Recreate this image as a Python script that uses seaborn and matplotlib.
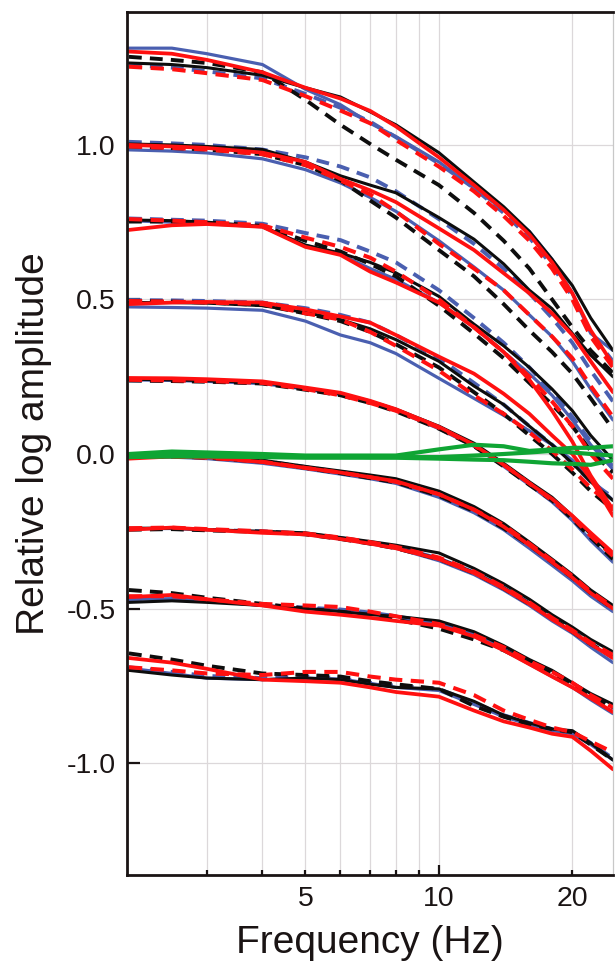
import matplotlib
matplotlib.use("Agg")
import matplotlib.pyplot as plt
import seaborn as sns
from matplotlib.ticker import FixedLocator, FuncFormatter

# ---------------- data ----------------
FREQ = [2, 2.5, 3, 4, 5, 6, 7, 8, 10, 12, 14, 16, 18, 20, 22, 24.7]

# group A (top, ~1.27)
A_blk   = [1.265, 1.26, 1.25, 1.225, 1.185, 1.155, 1.107, 1.065, 0.975, 0.88, 0.80, 0.72, 0.63, 0.545, 0.44, 0.335]
A_blk_d = [1.285, 1.275, 1.265, 1.235, 1.146, 1.065, 1.003, 0.952, 0.87, 0.78, 0.69, 0.60, 0.50, 0.41, 0.335, 0.262]
A_red   = [1.302, 1.295, 1.275, 1.235, 1.185, 1.15, 1.11, 1.06, 0.96, 0.87, 0.79, 0.71, 0.62, 0.52, 0.40, 0.29]
A_red_d = [1.253, 1.245, 1.232, 1.21, 1.158, 1.111, 1.07, 1.016, 0.93, 0.85, 0.77, 0.69, 0.60, 0.50, 0.38, 0.28]
A_blu   = [1.313, 1.313, 1.295, 1.26, 1.18, 1.13, 1.07, 1.027, 0.945, 0.86, 0.79, 0.72, 0.63, 0.52, 0.39, 0.335]
A_blu_d = [1.258, 1.25, 1.238, 1.215, 1.165, 1.12, 1.075, 1.025, 0.94, 0.86, 0.78, 0.70, 0.61, 0.51, 0.39, 0.30]

# group B (~1.0)
B_blk   = [1.003, 1.0, 0.995, 0.985, 0.945, 0.90, 0.87, 0.845, 0.765, 0.695, 0.615, 0.53, 0.47, 0.39, 0.32, 0.25]
B_blk_d = [0.995, 0.99, 0.985, 0.97, 0.935, 0.885, 0.82, 0.765, 0.66, 0.575, 0.485, 0.40, 0.33, 0.26, 0.18, 0.08]
B_red   = [1.0, 0.995, 0.99, 0.975, 0.945, 0.89, 0.853, 0.815, 0.73, 0.66, 0.585, 0.52, 0.455, 0.385, 0.30, 0.20]
B_red_d = [0.995, 0.99, 0.985, 0.97, 0.935, 0.885, 0.84, 0.785, 0.68, 0.60, 0.53, 0.45, 0.38, 0.31, 0.22, 0.12]
B_blu   = [0.984, 0.98, 0.974, 0.955, 0.92, 0.877, 0.83, 0.785, 0.69, 0.605, 0.53, 0.45, 0.38, 0.30, 0.21, 0.11]
B_blu_d = [1.01, 1.005, 1.0, 0.985, 0.96, 0.93, 0.895, 0.85, 0.76, 0.68, 0.60, 0.52, 0.44, 0.36, 0.27, 0.17]

# group C (~0.75)
C_blk   = [0.757, 0.755, 0.75, 0.736, 0.676, 0.65, 0.62, 0.586, 0.51, 0.42, 0.35, 0.28, 0.21, 0.14, 0.06, -0.02]
C_blk_d = [0.752, 0.752, 0.75, 0.738, 0.69, 0.655, 0.615, 0.575, 0.48, 0.39, 0.31, 0.23, 0.16, 0.09, 0.01, -0.06]
C_red   = [0.725, 0.74, 0.744, 0.735, 0.67, 0.644, 0.59, 0.555, 0.49, 0.41, 0.33, 0.24, 0.14, 0.04, -0.07, -0.18]
C_red_d = [0.76, 0.755, 0.75, 0.74, 0.70, 0.67, 0.635, 0.59, 0.50, 0.41, 0.33, 0.25, 0.17, 0.09, 0.0, -0.08]
C_blu   = [0.755, 0.75, 0.745, 0.735, 0.675, 0.645, 0.60, 0.565, 0.49, 0.41, 0.33, 0.26, 0.19, 0.11, 0.03, -0.05]
C_blu_d = [0.762, 0.758, 0.755, 0.745, 0.715, 0.692, 0.655, 0.62, 0.53, 0.44, 0.36, 0.28, 0.20, 0.12, 0.04, -0.04]

# group D (~0.5)
D_blk   = [0.49, 0.49, 0.488, 0.48, 0.458, 0.435, 0.405, 0.37, 0.30, 0.22, 0.16, 0.09, 0.03, -0.03, -0.09, -0.15]
D_blk_d = [0.495, 0.493, 0.49, 0.482, 0.455, 0.43, 0.395, 0.355, 0.28, 0.20, 0.13, 0.06, 0.0, -0.06, -0.12, -0.18]
D_red   = [0.485, 0.49, 0.492, 0.49, 0.468, 0.445, 0.425, 0.385, 0.315, 0.26, 0.195, 0.13, 0.06, 0.0, -0.08, -0.2]
D_red_d = [0.495, 0.493, 0.49, 0.485, 0.455, 0.435, 0.395, 0.35, 0.27, 0.19, 0.13, 0.07, 0.01, -0.05, -0.11, -0.17]
D_blu   = [0.476, 0.474, 0.472, 0.465, 0.43, 0.385, 0.36, 0.325, 0.245, 0.18, 0.125, 0.075, 0.03, -0.02, -0.08, -0.15]
D_blu_d = [0.498, 0.497, 0.495, 0.49, 0.472, 0.45, 0.425, 0.385, 0.31, 0.23, 0.16, 0.09, 0.03, -0.03, -0.09, -0.14]

# group E (~0.25)
E_blk   = [0.242, 0.24, 0.237, 0.232, 0.212, 0.195, 0.17, 0.145, 0.09, 0.035, -0.03, -0.09, -0.14, -0.2, -0.26, -0.33]
E_blk_d = [0.238, 0.236, 0.234, 0.228, 0.208, 0.19, 0.165, 0.138, 0.082, 0.025, -0.04, -0.1, -0.15, -0.21, -0.27, -0.34]
E_red   = [0.246, 0.245, 0.242, 0.235, 0.215, 0.198, 0.172, 0.145, 0.088, 0.03, -0.035, -0.095, -0.145, -0.2, -0.255, -0.32]
E_red_d = [0.24, 0.238, 0.236, 0.23, 0.21, 0.19, 0.165, 0.14, 0.085, 0.028, -0.035, -0.095, -0.15, -0.205, -0.265, -0.33]
E_blu   = [0.24, 0.238, 0.235, 0.228, 0.21, 0.192, 0.168, 0.14, 0.082, 0.025, -0.04, -0.1, -0.155, -0.215, -0.28, -0.35]
E_blu_d = [0.238, 0.237, 0.235, 0.23, 0.212, 0.195, 0.17, 0.143, 0.088, 0.03, -0.035, -0.095, -0.15, -0.21, -0.27, -0.34]

# group F (starts at 0)
F_blk   = [-0.005, -0.005, -0.01, -0.02, -0.04, -0.055, -0.068, -0.08, -0.12, -0.17, -0.225, -0.285, -0.34, -0.39, -0.44, -0.49]
F_blk_d = [-0.008, -0.008, -0.012, -0.025, -0.045, -0.062, -0.078, -0.092, -0.135, -0.185, -0.24, -0.295, -0.35, -0.40, -0.45, -0.50]
F_red   = [-0.015, -0.008, -0.01, -0.026, -0.045, -0.06, -0.075, -0.088, -0.13, -0.18, -0.235, -0.295, -0.35, -0.40, -0.45, -0.50]
F_red_d = [-0.01, -0.008, -0.012, -0.025, -0.045, -0.06, -0.075, -0.09, -0.13, -0.18, -0.23, -0.29, -0.345, -0.395, -0.445, -0.495]
F_blu   = [-0.01, -0.01, -0.015, -0.03, -0.048, -0.065, -0.08, -0.095, -0.14, -0.19, -0.245, -0.305, -0.36, -0.41, -0.46, -0.51]
F_blu_d = [-0.005, -0.006, -0.01, -0.022, -0.042, -0.058, -0.072, -0.086, -0.128, -0.178, -0.232, -0.29, -0.345, -0.395, -0.445, -0.495]

# group G (~-0.25)
G_blk   = [-0.24, -0.24, -0.245, -0.25, -0.255, -0.27, -0.283, -0.295, -0.32, -0.37, -0.42, -0.47, -0.52, -0.56, -0.6, -0.64]
G_blk_d = [-0.245, -0.243, -0.247, -0.252, -0.26, -0.275, -0.29, -0.305, -0.34, -0.385, -0.435, -0.485, -0.53, -0.575, -0.615, -0.655]
G_red   = [-0.245, -0.238, -0.245, -0.255, -0.26, -0.275, -0.29, -0.305, -0.34, -0.385, -0.435, -0.485, -0.535, -0.575, -0.615, -0.66]
G_red_d = [-0.24, -0.238, -0.243, -0.25, -0.257, -0.27, -0.285, -0.3, -0.335, -0.38, -0.43, -0.48, -0.53, -0.57, -0.61, -0.65]
G_blu   = [-0.242, -0.241, -0.245, -0.252, -0.26, -0.275, -0.29, -0.305, -0.345, -0.39, -0.44, -0.49, -0.54, -0.58, -0.625, -0.675]
G_blu_d = [-0.243, -0.242, -0.246, -0.25, -0.258, -0.272, -0.287, -0.3, -0.338, -0.383, -0.433, -0.483, -0.533, -0.573, -0.613, -0.66]

# group H (~-0.47)
H_blk   = [-0.48, -0.475, -0.48, -0.49, -0.5, -0.51, -0.52, -0.525, -0.54, -0.575, -0.62, -0.665, -0.70, -0.74, -0.775, -0.81]
H_blk_d = [-0.44, -0.45, -0.465, -0.485, -0.5, -0.51, -0.52, -0.535, -0.565, -0.6, -0.635, -0.675, -0.71, -0.745, -0.78, -0.82]
H_red   = [-0.463, -0.456, -0.47, -0.49, -0.51, -0.52, -0.53, -0.54, -0.555, -0.59, -0.635, -0.68, -0.72, -0.755, -0.79, -0.835]
H_red_d = [-0.46, -0.46, -0.47, -0.485, -0.49, -0.495, -0.51, -0.525, -0.55, -0.585, -0.625, -0.67, -0.705, -0.74, -0.78, -0.82]
H_blu   = [-0.47, -0.468, -0.475, -0.49, -0.5, -0.505, -0.515, -0.525, -0.55, -0.59, -0.635, -0.68, -0.72, -0.755, -0.795, -0.84]
H_blu_d = [-0.468, -0.466, -0.473, -0.488, -0.497, -0.503, -0.513, -0.525, -0.548, -0.585, -0.628, -0.672, -0.712, -0.748, -0.786, -0.825]

# group I (~-0.68)
I_blk   = [-0.70, -0.715, -0.725, -0.73, -0.725, -0.73, -0.745, -0.755, -0.76, -0.80, -0.845, -0.87, -0.89, -0.895, -0.935, -0.99]
I_blk_d = [-0.645, -0.665, -0.685, -0.71, -0.715, -0.72, -0.735, -0.745, -0.76, -0.815, -0.85, -0.875, -0.89, -0.9, -0.94, -0.99]
I_red   = [-0.66, -0.675, -0.695, -0.73, -0.735, -0.74, -0.755, -0.77, -0.785, -0.83, -0.865, -0.885, -0.905, -0.915, -0.96, -1.02]
I_red_d = [-0.69, -0.7, -0.71, -0.715, -0.705, -0.705, -0.72, -0.73, -0.74, -0.78, -0.83, -0.86, -0.885, -0.9, -0.93, -0.965]
I_blu   = [-0.693, -0.71, -0.725, -0.73, -0.725, -0.728, -0.742, -0.755, -0.765, -0.81, -0.85, -0.875, -0.895, -0.905, -0.94, -0.99]
I_blu_d = [-0.69, -0.705, -0.718, -0.725, -0.72, -0.725, -0.74, -0.75, -0.76, -0.805, -0.845, -0.87, -0.89, -0.9, -0.935, -0.985]

# reference (green) curves near zero
GR1 = [0.0, 0.008, 0.005, 0.0, -0.005, -0.005, -0.005, -0.005, 0.015, 0.03, 0.025, 0.01, 0.015, 0.02, 0.02, 0.025]
GR2 = [-0.005, 0.0, -0.003, -0.005, -0.008, -0.008, -0.01, -0.01, -0.01, -0.005, 0.0, 0.005, 0.01, 0.005, 0.0, -0.005]
GR3 = [-0.01, -0.008, -0.008, -0.01, -0.012, -0.012, -0.012, -0.012, -0.015, -0.018, -0.02, -0.025, -0.03, -0.032, -0.035, -0.02]

Y_TICKS = [-1.0, -0.5, 0.0, 0.5, 1.0]
X_LABELED = {5: "5", 10: "10", 20: "20"}

# ---------------- styling ----------------
BLACK = "#0d0d0d"
RED = "#ff1010"
BLUE = "#4a5fb0"
GREEN = "#0fa534"
TXT = "#1a1414"

sns.set_theme(style="white")
plt.rcParams["font.family"] = ["Liberation Sans", "DejaVu Sans"]
plt.rcParams["axes.unicode_minus"] = False

fig = plt.figure(figsize=(6.15, 9.61), dpi=100)
ax = fig.add_axes([127 / 615, 1 - 875 / 961, (613 - 127) / 615, (875 - 12) / 961])

groups = [
    (A_blk, A_blk_d, A_red, A_red_d, A_blu, A_blu_d),
    (B_blk, B_blk_d, B_red, B_red_d, B_blu, B_blu_d),
    (C_blk, C_blk_d, C_red, C_red_d, C_blu, C_blu_d),
    (D_blk, D_blk_d, D_red, D_red_d, D_blu, D_blu_d),
    (E_blk, E_blk_d, E_red, E_red_d, E_blu, E_blu_d),
    (F_blk, F_blk_d, F_red, F_red_d, F_blu, F_blu_d),
    (G_blk, G_blk_d, G_red, G_red_d, G_blu, G_blu_d),
    (H_blk, H_blk_d, H_red, H_red_d, H_blu, H_blu_d),
    (I_blk, I_blk_d, I_red, I_red_d, I_blu, I_blu_d),
]

DASH = (0, (3.3, 2.1))
# drawing order: blue dashed, blue, black dashed, black, red dashed, red
layer_spec = [(5, BLUE, DASH, 2.8), (4, BLUE, "-", 2.3),
              (1, BLACK, DASH, 2.8), (0, BLACK, "-", 2.2),
              (3, RED, DASH, 2.9), (2, RED, "-", 2.7)]

for idx, col, ls, lw in layer_spec:
    for g in groups:
        sns.lineplot(x=FREQ, y=g[idx], ax=ax, color=col, linestyle=ls,
                     linewidth=lw, errorbar=None, legend=False)

for gv in (GR1, GR2, GR3):
    sns.lineplot(x=FREQ, y=gv, ax=ax, color=GREEN, linestyle="-",
                 linewidth=3.0, errorbar=None, legend=False)

# ---------------- axes ----------------
ax.set_xscale("log")
ax.set_xlim(1.98, 24.7)
ax.set_ylim(-1.362, 1.43)

ax.xaxis.set_major_locator(FixedLocator([10]))
ax.xaxis.set_minor_locator(FixedLocator([3, 4, 5, 6, 7, 8, 9, 20]))
fmt = FuncFormatter(lambda v, p: X_LABELED.get(int(round(v)), ""))
ax.xaxis.set_major_formatter(fmt)
ax.xaxis.set_minor_formatter(fmt)
ax.yaxis.set_major_locator(FixedLocator(Y_TICKS))
ax.yaxis.set_major_formatter(FuncFormatter(lambda v, p: f"{v:.1f}"))

ax.tick_params(axis="x", which="major", direction="in", length=7.5, width=1.6,
               labelsize=20.5, pad=8, colors=TXT, bottom=True, top=False)
ax.tick_params(axis="x", which="minor", direction="in", length=3.8, width=1.6,
               labelsize=20.5, pad=8, colors=TXT, bottom=True, top=False)
ax.tick_params(axis="y", which="major", direction="in", length=9.5, width=1.6,
               labelsize=20.5, pad=8, colors=TXT, left=True, right=False)

ax.grid(True, which="both", axis="x", color="#dcd8da", linewidth=0.9)
ax.grid(True, which="major", axis="y", color="#dcd8da", linewidth=0.9)
ax.set_axisbelow(True)

for s in ("left", "bottom", "top"):
    ax.spines[s].set_color(TXT)
    ax.spines[s].set_linewidth(2.0)
ax.spines["right"].set_color("#c8c8c8")
ax.spines["right"].set_linewidth(0.9)

ax.set_xlabel("Frequency (Hz)", fontsize=28, color=TXT, labelpad=9)
ax.set_ylabel("Relative log amplitude", fontsize=28, color=TXT, labelpad=10.5)

fig.savefig("out.png", dpi=100)
